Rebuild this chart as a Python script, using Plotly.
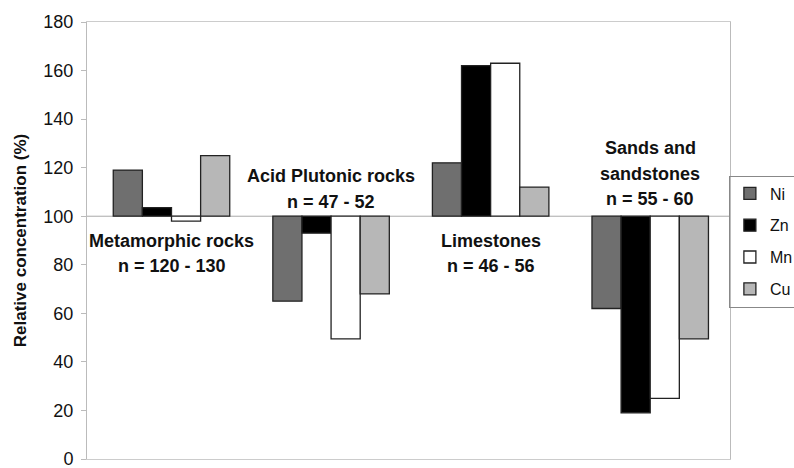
import plotly.graph_objects as go

groups = ['Metamorphic rocks', 'Acid Plutonic rocks', 'Limestones', 'Sands and sandstones']
group_lines = [['Metamorphic rocks', 'n = 120 - 130'],
               ['Acid Plutonic rocks', 'n = 47 - 52'],
               ['Limestones', 'n = 46 - 56'],
               ['Sands and', 'sandstones', 'n = 55 - 60']]
label_top = [90, 116.5, 90, 128]

ni = [119, 65, 122, 62]
zn = [103.5, 93, 162, 19]
mn = [98, 49.5, 163, 25]
cu = [125, 68, 112, 49.5]

baseline = 100

series = [('Ni', ni, '#6f6f6f'),
          ('Zn', zn, '#000000'),
          ('Mn', mn, '#ffffff'),
          ('Cu', cu, '#b7b7b7')]

fig = go.Figure()
for name, vals, col in series:
    fig.add_trace(go.Bar(x=groups, y=[v - baseline for v in vals], base=baseline,
                         name=name, legendgroup=name,
                         marker=dict(color=col, line=dict(color='#222222', width=1.3))))

# group labels, one annotation per text line
for g, lines, yy in zip(groups, group_lines, label_top):
    for i, line in enumerate(lines):
        fig.add_annotation(x=g, y=yy, yshift=-25.5 * i, text='<b>' + line + '</b>',
                           showarrow=False, yanchor='middle',
                           font=dict(family='Liberation Sans, Arial', size=18, color='#111111'))

# category axis crosses at 100
fig.add_shape(type='line', xref='paper', x0=0, x1=1, yref='y', y0=baseline, y1=baseline,
              line=dict(color='#aaaaaa', width=1), layer='below')

fig.update_layout(
    width=794, height=468,
    margin=dict(l=87, r=64, t=22, b=9, autoexpand=False),
    paper_bgcolor='white', plot_bgcolor='white',
    barmode='group', bargap=0.27, bargroupgap=0,
    font=dict(family='Liberation Sans, Arial', color='#111111'),
    showlegend=True,
    legend=dict(xref='container', yref='container', x=0.918, y=0.625,
                xanchor='left', yanchor='top',
                bordercolor='#888888', borderwidth=1, bgcolor='rgba(255,255,255,0)',
                font=dict(size=16), itemwidth=30, tracegroupgap=8),
    xaxis=dict(showticklabels=False, ticks='', showgrid=False,
               showline=True, linecolor='#cccccc', mirror=True),
    yaxis=dict(range=[0, 180], dtick=20, showgrid=False, zeroline=False,
               showline=True, linecolor='#bbbbbb', mirror=True,
               ticks='outside', ticklen=5, tickcolor='#bbbbbb',
               ticklabelstandoff=4, ticklabeloverflow='allow',
               tickfont=dict(size=18, color='#111111'),
               title=dict(text='<b>Relative concentration (%)</b>', font=dict(size=17),
                          standoff=12)),
)

fig.write_html("out.html", config={'displayModeBar': False},
               post_script="document.body.style.margin='0';")
